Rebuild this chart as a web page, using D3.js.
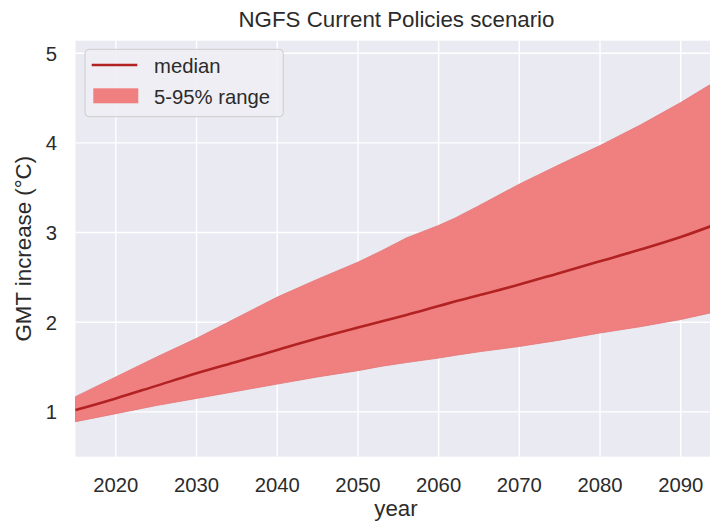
<!DOCTYPE html>
<html>
<head>
<meta charset="utf-8">
<script src="https://cdn.jsdelivr.net/npm/d3@7"></script>
<style>
  body { margin: 0; background: #fff; }
  text { font-family: "Liberation Sans", Arial, sans-serif; fill: #2b2b2b; }
</style>
</head>
<body>
<div id="wrapper"></div>
<script>
var years  = [2015, 2020, 2025, 2030, 2035, 2040, 2045, 2050, 2053, 2056, 2060, 2062, 2065, 2070, 2075, 2080, 2085, 2090, 2094];
var median = [1.02, 1.15, 1.29, 1.43, 1.56, 1.69, 1.82, 1.94, 2.01, 2.08, 2.18, 2.23, 2.30, 2.42, 2.55, 2.68, 2.81, 2.95, 3.08];
var lower  = [0.89, 0.98, 1.07, 1.15, 1.23, 1.31, 1.39, 1.46, 1.51, 1.55, 1.60, 1.63, 1.67, 1.73, 1.80, 1.88, 1.95, 2.03, 2.11];
var upper  = [1.17, 1.39, 1.61, 1.82, 2.05, 2.28, 2.48, 2.67, 2.80, 2.94, 3.08, 3.16, 3.30, 3.54, 3.76, 3.97, 4.20, 4.45, 4.67];
var xTicks = [2020, 2030, 2040, 2050, 2060, 2070, 2080, 2090];
var yTicks = [1, 2, 3, 4, 5];

drawChart('#wrapper');

function drawChart(dom_element_to_append_to) {
    var width = 710, height = 522;
    var margin = {left: 75.5, top: 40.7, bottom: 456.7};
    var plotRight = 713;
    var tickSize = "20.3px", labelSize = "22.3px";

    var data = years.map(function(y, i) {
        return {year: y, median: median[i], lower: lower[i], upper: upper[i]};
    });

    var x = d3.scaleLinear().domain([2015, 2094]).range([margin.left, plotRight]);
    var y = d3.scaleLinear().domain([0.5, 5.14]).range([margin.bottom, margin.top]);

    var svg = d3.select(dom_element_to_append_to)
        .append("svg")
        .attr("width", width)
        .attr("height", height);

    // axes background
    svg.append("rect")
        .attr("x", margin.left).attr("y", margin.top)
        .attr("width", plotRight - margin.left)
        .attr("height", margin.bottom - margin.top)
        .attr("fill", "#EAEAF2");

    // grid
    svg.selectAll(".xgrid").data(xTicks).enter().append("line")
        .attr("x1", d => x(d)).attr("x2", d => x(d))
        .attr("y1", margin.top).attr("y2", margin.bottom)
        .attr("stroke", "#fff").attr("stroke-width", 1.4);
    svg.selectAll(".ygrid").data(yTicks).enter().append("line")
        .attr("x1", margin.left).attr("x2", plotRight)
        .attr("y1", d => y(d)).attr("y2", d => y(d))
        .attr("stroke", "#fff").attr("stroke-width", 1.4);

    // band
    var area = d3.area()
        .x(d => x(d.year))
        .y0(d => y(d.lower))
        .y1(d => y(d.upper));
    svg.append("path")
        .datum(data)
        .attr("d", area)
        .attr("fill", "#F08080")
        .attr("stroke", "#E57373")
        .attr("stroke-width", 0.8);

    var line = d3.line()
        .x(d => x(d.year))
        .y(d => y(d.median))
        .curve(d3.curveMonotoneX);
    svg.append("path")
        .datum(data)
        .attr("d", line)
        .attr("fill", "none")
        .attr("stroke", "#B22222")
        .attr("stroke-width", 2.6);

    // tick labels
    svg.selectAll(".xlab").data(xTicks).enter().append("text")
        .attr("x", d => x(d)).attr("y", 492)
        .attr("text-anchor", "middle")
        .style("font-size", tickSize)
        .text(d => d);
    svg.selectAll(".ylab").data(yTicks).enter().append("text")
        .attr("x", 57).attr("y", d => y(d) + 7.3)
        .attr("text-anchor", "end")
        .style("font-size", tickSize)
        .text(d => d);

    // axis titles
    svg.append("text")
        .attr("x", 396).attr("y", 516)
        .attr("text-anchor", "middle")
        .style("font-size", labelSize)
        .text("year");
    svg.append("text")
        .attr("transform", "translate(31," + ((margin.top + margin.bottom) / 2) + ") rotate(-90)")
        .attr("text-anchor", "middle")
        .style("font-size", labelSize)
        .text("GMT increase (°C)");
    svg.append("text")
        .attr("x", 396.5).attr("y", 27.3)
        .attr("text-anchor", "middle")
        .style("font-size", labelSize)
        .text("NGFS Current Policies scenario");

    // legend
    var lg = svg.append("g").attr("transform", "translate(85,49.3)");
    lg.append("rect")
        .attr("width", 198.3).attr("height", 67.4).attr("rx", 4)
        .attr("fill", "#EEEEF4").attr("fill-opacity", 0.9)
        .attr("stroke", "#CCCCCC").attr("stroke-width", 1);
    lg.append("line")
        .attr("x1", 6.7).attr("x2", 52.3).attr("y1", 15.7).attr("y2", 15.7)
        .attr("stroke", "#B22222").attr("stroke-width", 2.6);
    lg.append("rect")
        .attr("x", 8.3).attr("y", 39).attr("width", 45).attr("height", 15)
        .attr("fill", "#F08080");
    lg.append("text").attr("x", 69).attr("y", 24)
        .style("font-size", tickSize).text("median");
    lg.append("text").attr("x", 69).attr("y", 54.7)
        .style("font-size", tickSize).text("5-95% range");
}
</script>
</body>
</html>
